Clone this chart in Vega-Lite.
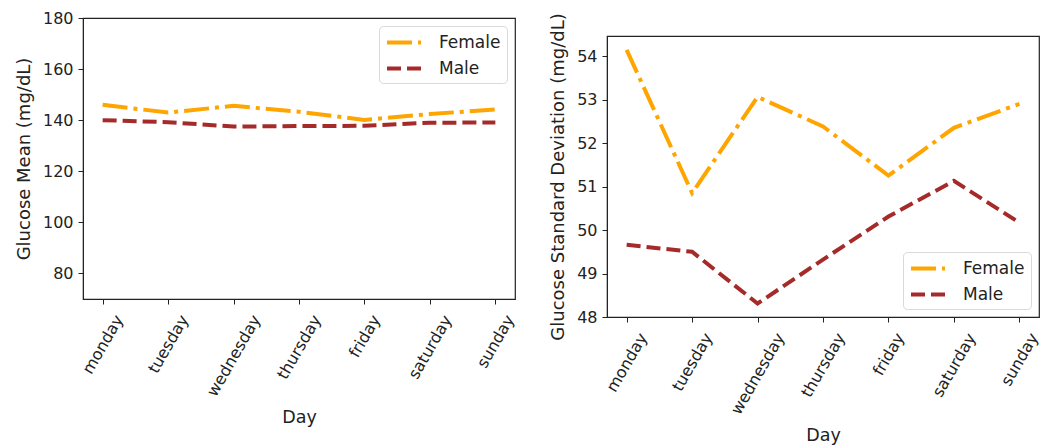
{
  "$schema": "https://vega.github.io/schema/vega-lite/v6.json",
  "padding": {"left": 14, "top": 9, "right": 5, "bottom": 0},
  "spacing": 31,
  "background": "white",
  "config": {
    "font": "DejaVu Sans",
    "view": {"stroke": "#222", "strokeWidth": 1.2},
    "axis": {
      "grid": false,
      "domainColor": "#222",
      "tickColor": "#222",
      "tickSize": 5,
      "labelFontSize": 16,
      "labelColor": "#222",
      "titleColor": "#222",
      "titleFontWeight": "normal",
      "labelPadding": 5
    },
    "axisY": {"titleFontSize": 18, "titlePadding": 9},
    "axisX": {"titleFontSize": 17.5, "titlePadding": 10},
    "legend": {
      "labelFontSize": 17,
      "labelColor": "#222",
      "symbolType": "M-1,0L3,0",
      "symbolSize": 289,
      "symbolStrokeWidth": 4,
      "labelOffset": 33,
      "strokeColor": "#d9d9d9",
      "fillColor": "white",
      "cornerRadius": 4,
      "padding": 6,
      "offset": 8,
      "rowPadding": 7
    },
    "line": {"strokeWidth": 4}
  },
  "data": {
    "values": [
      {"day": "monday", "sex": "Female", "mean": 146.0, "sd": 54.14},
      {"day": "tuesday", "sex": "Female", "mean": 143.0, "sd": 50.85},
      {"day": "wednesday", "sex": "Female", "mean": 145.6, "sd": 53.06},
      {"day": "thursday", "sex": "Female", "mean": 143.3, "sd": 52.38},
      {"day": "friday", "sex": "Female", "mean": 140.1, "sd": 51.25},
      {"day": "saturday", "sex": "Female", "mean": 142.4, "sd": 52.35},
      {"day": "sunday", "sex": "Female", "mean": 144.2, "sd": 52.9},
      {"day": "monday", "sex": "Male", "mean": 140.0, "sd": 49.66},
      {"day": "tuesday", "sex": "Male", "mean": 139.2, "sd": 49.5},
      {"day": "wednesday", "sex": "Male", "mean": 137.5, "sd": 48.31},
      {"day": "thursday", "sex": "Male", "mean": 137.7, "sd": 49.32},
      {"day": "friday", "sex": "Male", "mean": 137.8, "sd": 50.31},
      {"day": "saturday", "sex": "Male", "mean": 139.0, "sd": 51.13},
      {"day": "sunday", "sex": "Male", "mean": 139.1, "sd": 50.17}
    ]
  },
  "resolve": {
    "legend": {"color": "independent", "strokeDash": "independent"}
  },
  "hconcat": [
    {
      "width": 432,
      "height": 281,
      "mark": {"type": "line", "strokeWidth": 4},
      "encoding": {
        "x": {
          "field": "day",
          "type": "ordinal",
          "sort": ["monday", "tuesday", "wednesday", "thursday", "friday", "saturday", "sunday"],
          "scale": {"type": "point", "padding": 0.3},
          "axis": {
            "title": "Day",
            "labelAngle": -60,
            "labelAlign": "center",
            "labelBaseline": "middle",
            "labelPadding": {
              "condition": [
                {"test": "datum.label == 'wednesday'", "value": 51.4},
                {"test": "datum.label == 'thursday' || datum.label == 'saturday'", "value": 42.7},
                {"test": "datum.label == 'monday'", "value": 40.1},
                {"test": "datum.label == 'tuesday'", "value": 39.7},
                {"test": "datum.label == 'sunday'", "value": 37.1}
              ],
              "value": 31.9
            }
          }
        },
        "y": {
          "field": "mean",
          "type": "quantitative",
          "scale": {"domain": [70, 180], "nice": false, "zero": false},
          "axis": {"title": "Glucose Mean (mg/dL)", "values": [80, 100, 120, 140, 160, 180]}
        },
        "color": {
          "field": "sex",
          "type": "nominal",
          "scale": {"domain": ["Female", "Male"], "range": ["#FFA500", "#A52A2A"]},
          "legend": {"title": null, "orient": "top-right"}
        },
        "strokeDash": {
          "field": "sex",
          "type": "nominal",
          "scale": {"domain": ["Female", "Male"], "range": [[25, 6, 4, 6], [14, 6]]},
          "legend": {"title": null, "orient": "top-right"}
        }
      }
    },
    {
      "resolve": {
        "legend": {"color": "independent", "strokeDash": "independent"}
      },
      "bounds": "flush",
      "spacing": 17,
      "vconcat": [
        {
          "width": 432,
          "height": 1,
          "data": {"values": []},
          "mark": {"type": "point", "opacity": 0},
          "view": {"stroke": null}
        },
        {
          "width": 432,
          "height": 281,
          "mark": {"type": "line", "strokeWidth": 4},
          "encoding": {
            "x": {
              "field": "day",
              "type": "ordinal",
              "sort": ["monday", "tuesday", "wednesday", "thursday", "friday", "saturday", "sunday"],
              "scale": {"type": "point", "padding": 0.3},
              "axis": {
                "title": "Day",
                "labelAngle": -60,
                "labelAlign": "center",
                "labelBaseline": "middle",
                "labelPadding": {
                  "condition": [
                    {"test": "datum.label == 'wednesday'", "value": 51.4},
                    {"test": "datum.label == 'thursday' || datum.label == 'saturday'", "value": 42.7},
                    {"test": "datum.label == 'monday'", "value": 40.1},
                    {"test": "datum.label == 'tuesday'", "value": 39.7},
                    {"test": "datum.label == 'sunday'", "value": 37.1}
                  ],
                  "value": 31.9
                }
              }
            },
            "y": {
              "field": "sd",
              "type": "quantitative",
              "scale": {"domain": [48, 54.46], "nice": false, "zero": false},
              "axis": {"title": "Glucose Standard Deviation (mg/dL)", "values": [48, 49, 50, 51, 52, 53, 54]}
            },
            "color": {
              "field": "sex",
              "type": "nominal",
              "scale": {"domain": ["Female", "Male"], "range": ["#FFA500", "#A52A2A"]},
              "legend": {"title": null, "orient": "bottom-right"}
            },
            "strokeDash": {
              "field": "sex",
              "type": "nominal",
              "scale": {"domain": ["Female", "Male"], "range": [[25, 6, 4, 6], [14, 6]]},
              "legend": {"title": null, "orient": "bottom-right"}
            }
          }
        }
      ]
    }
  ]
}
